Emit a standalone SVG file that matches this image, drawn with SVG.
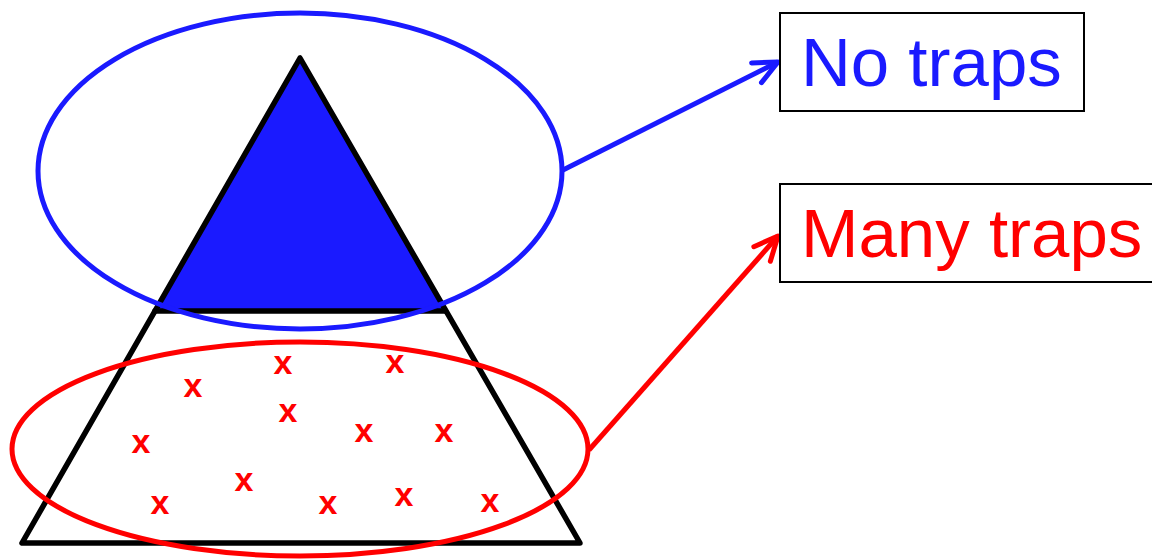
<svg xmlns="http://www.w3.org/2000/svg" width="1152" height="560" viewBox="0 0 1152 560">
<style>
.tri{fill:none;stroke:#000;stroke-width:5.5;stroke-linejoin:round;stroke-linecap:round}
.x{font-family:"Liberation Sans",Arial,sans-serif;font-weight:bold;font-size:34px;fill:#ff0000;text-anchor:middle}
.lbl{font-family:"Liberation Sans",Arial,sans-serif;font-size:69px}
.box{fill:#fff;stroke:#000;stroke-width:2}
</style>
<defs>
<marker id="ab" markerUnits="userSpaceOnUse" viewBox="-30 -15 34 30" refX="0" refY="0" markerWidth="34" markerHeight="30" orient="auto" overflow="visible">
<path d="M-24,-11 L0,0 L-24,11" fill="none" stroke="#1a1aff" stroke-width="5" stroke-linecap="round" stroke-linejoin="round"/>
</marker>
<marker id="ar" markerUnits="userSpaceOnUse" viewBox="-30 -15 34 30" refX="0" refY="0" markerWidth="34" markerHeight="30" orient="auto" overflow="visible">
<path d="M-24,-11 L0,0 L-24,11" fill="none" stroke="#ff0000" stroke-width="5" stroke-linecap="round" stroke-linejoin="round"/>
</marker>
</defs>
<g id="pyramid">
<polygon points="300,58 155,311 445,311" fill="#1a1aff"/>
<polygon class="tri" points="300,58 22,543 580,543"/>
<line class="tri" x1="155" y1="311" x2="445" y2="311"/>
</g>
<g id="traps">
<text class="x" x="193" y="397">x</text>
<text class="x" x="283" y="374">x</text>
<text class="x" x="395" y="373">x</text>
<text class="x" x="288" y="422">x</text>
<text class="x" x="141" y="453">x</text>
<text class="x" x="364" y="442">x</text>
<text class="x" x="444" y="442">x</text>
<text class="x" x="244" y="491">x</text>
<text class="x" x="160" y="514">x</text>
<text class="x" x="328" y="514">x</text>
<text class="x" x="404" y="506">x</text>
<text class="x" x="490" y="512">x</text>
</g>
<g id="top-ellipse">
<ellipse cx="300" cy="171" rx="262" ry="158" fill="none" stroke="#1a1aff" stroke-width="5"/>
</g>
<g id="bottom-ellipse">
<ellipse cx="300" cy="449" rx="288" ry="107" fill="none" stroke="#ff0000" stroke-width="5"/>
</g>
<g id="connectors">
<line x1="563" y1="170" x2="778" y2="62" stroke="#1a1aff" stroke-width="5" marker-end="url(#ab)"/>
<line x1="589" y1="450" x2="778" y2="236" stroke="#ff0000" stroke-width="5" marker-end="url(#ar)"/>
</g>
<g id="no-traps">
<rect class="box" x="780" y="13" width="304" height="98"/>
<text class="lbl" x="801" y="86" fill="#1a1aff">No traps</text>
</g>
<g id="many-traps">
<rect class="box" x="780" y="184" width="380" height="98"/>
<text class="lbl" x="801" y="257" fill="#ff0000">Many traps</text>
</g>
</svg>
